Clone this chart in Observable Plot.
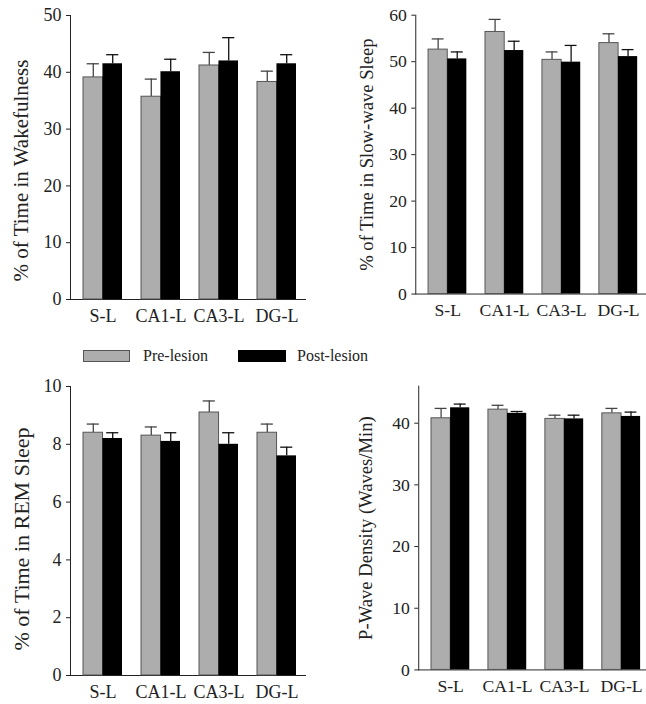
<!DOCTYPE html>
<html>
<head>
<meta charset="utf-8">
<script src="https://cdn.jsdelivr.net/npm/d3@7"></script>
<script src="https://cdn.jsdelivr.net/npm/@observablehq/plot@0.6"></script>
<style>
  html, body { margin: 0; padding: 0; background: #fff; }
  #wrap { position: relative; width: 646px; height: 704px; overflow: hidden; font-family: "Liberation Serif", "DejaVu Serif", serif; color: #222; }
  .panel { position: absolute; overflow: hidden; }
  .legend { position: absolute; top: 350px; font-size: 16px; }
  .sw { position: absolute; height: 12px; box-sizing: border-box; }
  .lt { position: absolute; top: -3px; white-space: nowrap; }
</style>
</head>
<body>
<div id="wrap">
  <div class="panel" id="p1" style="left:0;top:0;width:323px;height:340px"></div>
  <div class="panel" id="p2" style="left:323px;top:0;width:323px;height:340px"></div>
  <div class="panel" id="p3" style="left:0;top:370px;width:323px;height:334px"></div>
  <div class="panel" id="p4" style="left:323px;top:370px;width:323px;height:334px"></div>
  <div class="legend" style="left:0;width:646px">
    <div class="sw" style="left:83px;width:47px;background:#adadad;border:1px solid #555"></div>
    <div class="lt" style="left:143px">Pre-lesion</div>
    <div class="sw" style="left:238px;width:48px;background:#000"></div>
    <div class="lt" style="left:297px">Post-lesion</div>
  </div>
</div>
<script>
const categories = ["S-L", "CA1-L", "CA3-L", "DG-L"];
const seriesNames = ["Pre-lesion", "Post-lesion"];

// % time in wakefulness
const wakePre = [39.1, 35.7, 41.2, 38.3];
const wakePreSem = [2.4, 3.1, 2.3, 1.9];
const wakePost = [41.5, 40.1, 42.0, 41.5];
const wakePostSem = [1.6, 2.2, 4.1, 1.6];

// % time in slow-wave sleep
const swsPre = [52.6, 56.4, 50.4, 54.0];
const swsPreSem = [2.3, 2.7, 1.7, 2.0];
const swsPost = [50.6, 52.4, 49.9, 51.1];
const swsPostSem = [1.5, 2.0, 3.6, 1.5];

// % time in REM sleep
const remPre = [8.4, 8.3, 9.1, 8.4];
const remPreSem = [0.3, 0.3, 0.4, 0.3];
const remPost = [8.2, 8.1, 8.0, 7.6];
const remPostSem = [0.2, 0.3, 0.4, 0.3];

// P-wave density (waves/min)
const pwPre = [40.8, 42.2, 40.7, 41.6];
const pwPreSem = [1.6, 0.7, 0.6, 0.8];
const pwPost = [42.5, 41.6, 40.7, 41.1];
const pwPostSem = [0.6, 0.3, 0.6, 0.7];

const PI = 0.33, PO = 0.19, AL = 0.6, FRAME_W = 235;
const bw = d3.scaleBand().domain(categories).range([0, FRAME_W])
  .paddingInner(PI).paddingOuter(PO).align(AL).bandwidth();
const half = bw / 2;
const capHalf = 6;

function rowsFor(pre, preSem, post, postSem) {
  return categories.flatMap((c, i) => [
    {cat: c, s: seriesNames[0], v: pre[i], e: preSem[i]},
    {cat: c, s: seriesNames[1], v: post[i], e: postSem[i]}
  ]);
}

function panel(el, o) {
  const rows = rowsFor(o.pre, o.preSem, o.post, o.postSem);
  const preRows = rows.filter(d => d.s === seriesNames[0]);
  const postRows = rows.filter(d => d.s === seriesNames[1]);
  const chart = Plot.plot({
    width: o.width, height: o.height,
    marginLeft: o.mL, marginRight: o.width - o.mL - FRAME_W, marginTop: o.mT, marginBottom: o.mB,
    style: {fontFamily: "Liberation Serif, DejaVu Serif, serif", fontSize: "18px", color: "#222", background: "#fff", overflow: "visible"},
    x: {domain: categories, paddingInner: PI, paddingOuter: PO, align: AL, label: null, tickSize: 0, tickPadding: 10, line: true},
    y: {domain: o.domain, ticks: o.ticks, tickSize: 4, tickPadding: 5, line: true, label: null},
    marks: [
      Plot.ruleX(preRows, {x: "cat", y1: "v", y2: d => d.v + d.e, dx: -half / 2, stroke: "#444", strokeWidth: 1.3}),
      Plot.ruleX(postRows, {x: "cat", y1: "v", y2: d => d.v + d.e, dx: half / 2, stroke: "#111", strokeWidth: 1.3}),
      Plot.tickY(preRows, {x: "cat", y: d => d.v + d.e, insetLeft: half / 2 - capHalf, insetRight: bw - half / 2 - capHalf, stroke: "#444", strokeWidth: 1.3}),
      Plot.tickY(postRows, {x: "cat", y: d => d.v + d.e, insetLeft: half + half / 2 - capHalf, insetRight: half / 2 - capHalf, stroke: "#111", strokeWidth: 1.3}),
      Plot.barY(preRows, {x: "cat", y: "v", insetRight: half, fill: "#adadad", stroke: "#555", strokeWidth: 1}),
      Plot.barY(postRows, {x: "cat", y: "v", insetLeft: half, fill: "#000"}),
      Plot.text([o.label], {frameAnchor: "left", textAnchor: "middle", lineAnchor: "middle", rotate: -90, dx: o.labelDx, dy: o.labelDy, fontSize: o.labelSize, fill: "#222"})
    ]
  });
  document.getElementById(el).appendChild(chart);
}

panel("p1", {pre: wakePre, preSem: wakePreSem, post: wakePost, postSem: wakePostSem,
  domain: [0, 50], ticks: [0, 10, 20, 30, 40, 50], label: "% of Time in Wakefulness",
  width: 323, height: 340, mL: 70, mT: 15, mB: 41, labelDx: -49, labelDy: 13, labelSize: 21});
panel("p2", {pre: swsPre, preSem: swsPreSem, post: swsPost, postSem: swsPostSem,
  domain: [0, 60], ticks: [0, 10, 20, 30, 40, 50, 60], label: "% of Time in Slow-wave Sleep",
  width: 329, height: 340, mL: 94, mT: 15, mB: 41, labelDx: -50, labelDy: 0, labelSize: 19});
panel("p3", {pre: remPre, preSem: remPreSem, post: remPost, postSem: remPostSem,
  domain: [0, 10], ticks: [0, 2, 4, 6, 8, 10], label: "% of Time in REM Sleep",
  width: 323, height: 334, mL: 70, mT: 16, mB: 29, labelDx: -49, labelDy: 8, labelSize: 22});
panel("p4", {pre: pwPre, preSem: pwPreSem, post: pwPost, postSem: pwPostSem,
  domain: [0, 46], ticks: [0, 10, 20, 30, 40], label: "P-Wave Density (Waves/Min)",
  width: 329, height: 334, mL: 97, mT: 16, mB: 29, labelDx: -54, labelDy: 0, labelSize: 19});
</script>
</body>
</html>
